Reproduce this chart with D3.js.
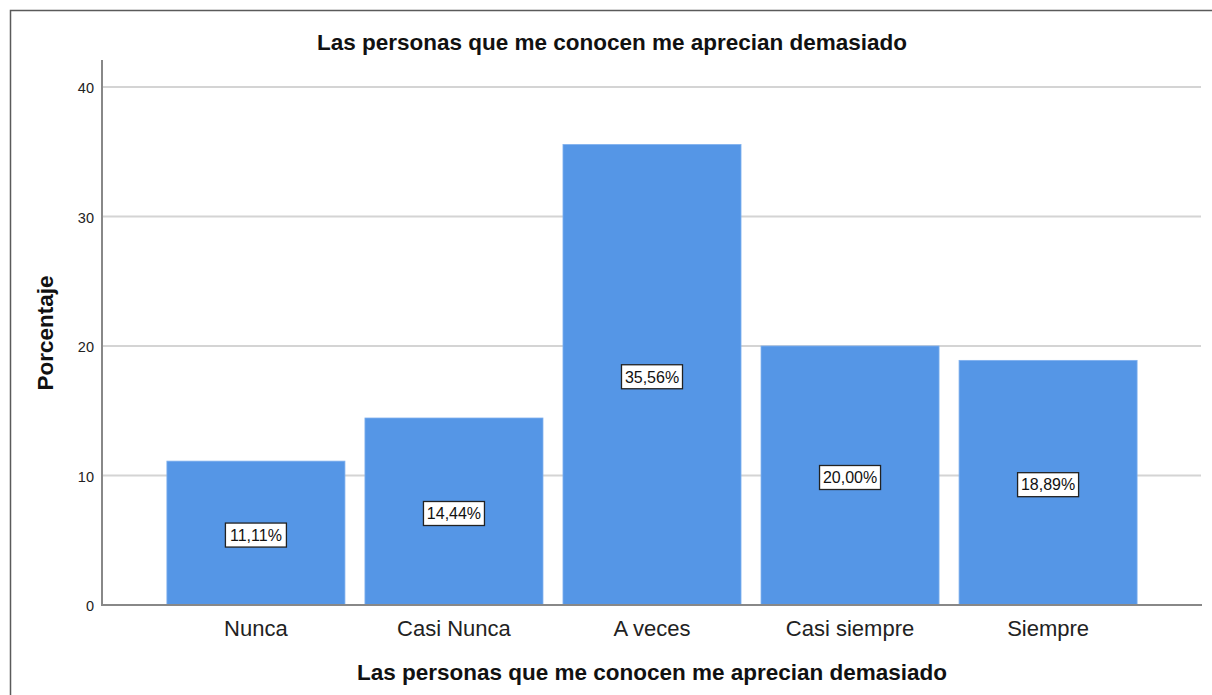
<!DOCTYPE html>
<html><head><meta charset="utf-8">
<script src="https://cdn.jsdelivr.net/npm/d3@7"></script>
<style>body{margin:0;background:#fff}svg{display:block}text{font-family:"Liberation Sans",Arial,sans-serif}</style>
</head><body>
<svg id="c" width="1212" height="695"></svg>
<script>
const categories = ["Nunca","Casi Nunca","A veces","Casi siempre","Siempre"];
const values = [11.11,14.44,35.56,20.00,18.89];
const valueLabels = ["11,11%","14,44%","35,56%","20,00%","18,89%"];
const yTicks = [0,10,20,30,40];
const title = "Las personas que me conocen me aprecian demasiado";
const xTitle = "Las personas que me conocen me aprecian demasiado";
const yTitle = "Porcentaje";

(function(){
const svg = d3.select("#c");
svg.append("rect").attr("x",10.5).attr("y",10.5).attr("width",1220).attr("height",700)
  .attr("fill","none").attr("stroke","#5a5a5a").attr("stroke-width",1.5);

const pLeft=102, pRight=1202, pTop=60, pBottom=605;
const y = d3.scaleLinear().domain([0,40]).range([pBottom,87]);
const x = d3.scaleBand().domain(categories).range([157,1147]).paddingInner(0.101).paddingOuter(0.05);

// gridlines
svg.append("g").selectAll("line").data(yTicks.filter(d=>d>0)).join("line")
  .attr("x1",pLeft).attr("x2",pRight-1).attr("y1",d=>y(d)).attr("y2",d=>y(d))
  .attr("stroke","#d4d4d4").attr("stroke-width",2);

// bars
svg.append("g").selectAll("rect").data(values).join("rect")
  .attr("x",(d,i)=>x(categories[i])).attr("width",x.bandwidth())
  .attr("y",d=>y(d)).attr("height",d=>pBottom-y(d))
  .attr("fill","#5596e6").attr("stroke","#7fb0ee").attr("stroke-width",0.8);

// axes
const yAxis = d3.axisLeft(y).tickValues(yTicks).tickSize(0).tickPadding(8);
const gy = svg.append("g").attr("transform",`translate(${pLeft},0)`).call(yAxis);
gy.select(".domain").remove();
gy.selectAll("text").attr("font-size",14.5).attr("fill","#222").attr("dy","0.4em")
  .attr("font-family","Liberation Sans, Arial, sans-serif");
svg.append("line").attr("x1",pLeft).attr("x2",pLeft).attr("y1",pTop).attr("y2",pBottom)
  .attr("stroke","#888").attr("stroke-width",2);
svg.append("line").attr("x1",pLeft-1).attr("x2",pRight).attr("y1",pBottom).attr("y2",pBottom)
  .attr("stroke","#888").attr("stroke-width",2);

const xAxis = d3.axisBottom(x).tickSize(0).tickPadding(15);
const gx = svg.append("g").attr("transform",`translate(0,${pBottom})`).call(xAxis);
gx.select(".domain").remove();
gx.selectAll("text").attr("font-size",22).attr("fill","#222")
  .attr("font-family","Liberation Sans, Arial, sans-serif");

// value labels
const lg = svg.append("g").selectAll("g").data(values).join("g")
  .attr("transform",(d,i)=>`translate(${x(categories[i])+x.bandwidth()/2},${y(d/2)+2})`);
lg.append("rect").attr("x",-30.5).attr("y",-12).attr("width",61).attr("height",24)
  .attr("fill","#fff").attr("stroke","#222").attr("stroke-width",1.3);
lg.append("text").text((d,i)=>valueLabels[i]).attr("text-anchor","middle").attr("dy","0.36em")
  .attr("font-size",16).attr("fill","#111");

// titles
svg.append("text").text(title).attr("x",612).attr("y",50).attr("text-anchor","middle")
  .attr("font-size",22.5).attr("font-weight","bold").attr("fill","#111");
svg.append("text").text(xTitle).attr("x",652).attr("y",680).attr("text-anchor","middle")
  .attr("font-size",22.5).attr("font-weight","bold").attr("fill","#111");
svg.append("text").text(yTitle).attr("transform",`translate(53,333) rotate(-90)`).attr("text-anchor","middle")
  .attr("font-size",22.5).attr("font-weight","bold").attr("fill","#111");
})();
</script>
</body></html>
